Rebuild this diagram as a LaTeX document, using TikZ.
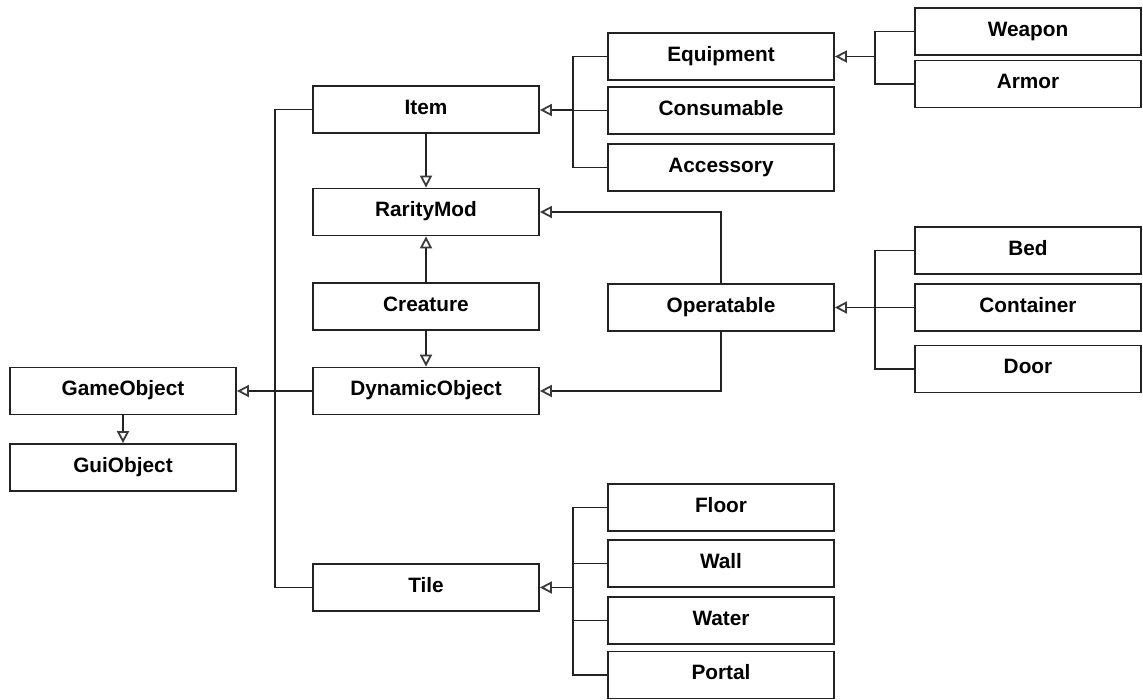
\documentclass[tikz,border=0pt]{standalone}
\usepackage{fontspec}
\setmainfont{Liberation Sans}
\usetikzlibrary{arrows.meta}
\definecolor{ink}{HTML}{222222}
\definecolor{tipink}{HTML}{3a3a3a}
\tikzset{
  cls/.style={draw=ink, line width=1.8pt, fill=white, minimum width=226pt, minimum height=47pt,
    inner sep=0pt, font=\bfseries\fontsize{20.8}{23}\selectfont, text=black,
    text height=14pt, text depth=5pt},
  link/.style={draw=ink, line width=1.8pt},
  ext/.style={link, -{Triangle[open, length=12pt, width=12pt, line width=1.8pt, color=tipink]}},
}
\begin{document}
\begin{tikzpicture}[x=1pt, y=-1pt]
\useasboundingbox (0,0) rectangle (1143,699);

% left column
\node[cls] (gameobject) at (123,391) {GameObject};
\node[cls] (guiobject)  at (123,467.5) {GuiObject};

% second column
\node[cls] (item)      at (426,109.5) {Item};
\node[cls] (raritymod) at (426,212) {RarityMod};
\node[cls] (creature)  at (426,306.5) {Creature};
\node[cls] (dynobj)    at (426,391) {DynamicObject};
\node[cls] (tile)      at (426,587.5) {Tile};

% third column
\node[cls] (equipment)  at (721,56.5) {Equipment};
\node[cls] (consumable) at (721,110.5) {Consumable};
\node[cls] (accessory)  at (721,167.5) {Accessory};
\node[cls] (operatable) at (721,307.5) {Operatable};
\node[cls] (floor)      at (721,507.5) {Floor};
\node[cls] (wall)       at (721,563.5) {Wall};
\node[cls] (water)      at (721,620.5) {Water};
\node[cls] (portal)     at (721,675) {Portal};

% fourth column
\node[cls] (weapon)    at (1028,31.5) {Weapon};
\node[cls] (armor)     at (1028,84) {Armor};
\node[cls] (bed)       at (1028,250.5) {Bed};
\node[cls] (container) at (1028,307.5) {Container};
\node[cls] (door)      at (1028,369) {Door};

% junction points of the shared inheritance lines
\coordinate (jG) at (275,391);
\coordinate (jE) at (875,56.5);
\coordinate (jI) at (573,110);
\coordinate (jO) at (875,307.5);
\coordinate (jT) at (573,587.5);

% GameObject hierarchy
\draw[link] (item.west) -| (jG);
\draw[link] (tile.west) -| (jG);
\draw[link] (dynobj.west) -- (jG);
\draw[ext] (jG) -- (gameobject.east);
\draw[ext] (gameobject.south) -- (guiobject.north);

% Equipment subclasses
\draw[link] (weapon.west) -| (jE);
\draw[link] (armor.west) -| (jE);
\draw[ext] (jE) -- (equipment.east);

% Item subclasses
\draw[link] (equipment.west) -| (jI);
\draw[link] (accessory.west) -| (jI);
\draw[link] (consumable.west) -- (consumable.west -| jI);
\draw[ext] (jI) -- (jI -| item.east);

% Operatable subclasses
\draw[link] (bed.west) -| (jO);
\draw[link] (door.west) -| (jO);
\draw[link] (container.west) -- (jO);
\draw[ext] (jO) -- (operatable.east);

% Tile subclasses
\draw[link] (floor.west) -| (jT);
\draw[link] (portal.west) -| (jT);
\draw[link] (wall.west) -- (wall.west -| jT);
\draw[link] (water.west) -- (water.west -| jT);
\draw[ext] (jT) -- (tile.east);

% RarityMod and DynamicObject links
\draw[ext] (item.south) -- (raritymod.north);
\draw[ext] (creature.north) -- (raritymod.south);
\draw[ext] (creature.south) -- (dynobj.north);
\draw[ext] (operatable.north) |- (raritymod.east);
\draw[ext] (operatable.south) |- (dynobj.east);
\end{tikzpicture}
\end{document}
